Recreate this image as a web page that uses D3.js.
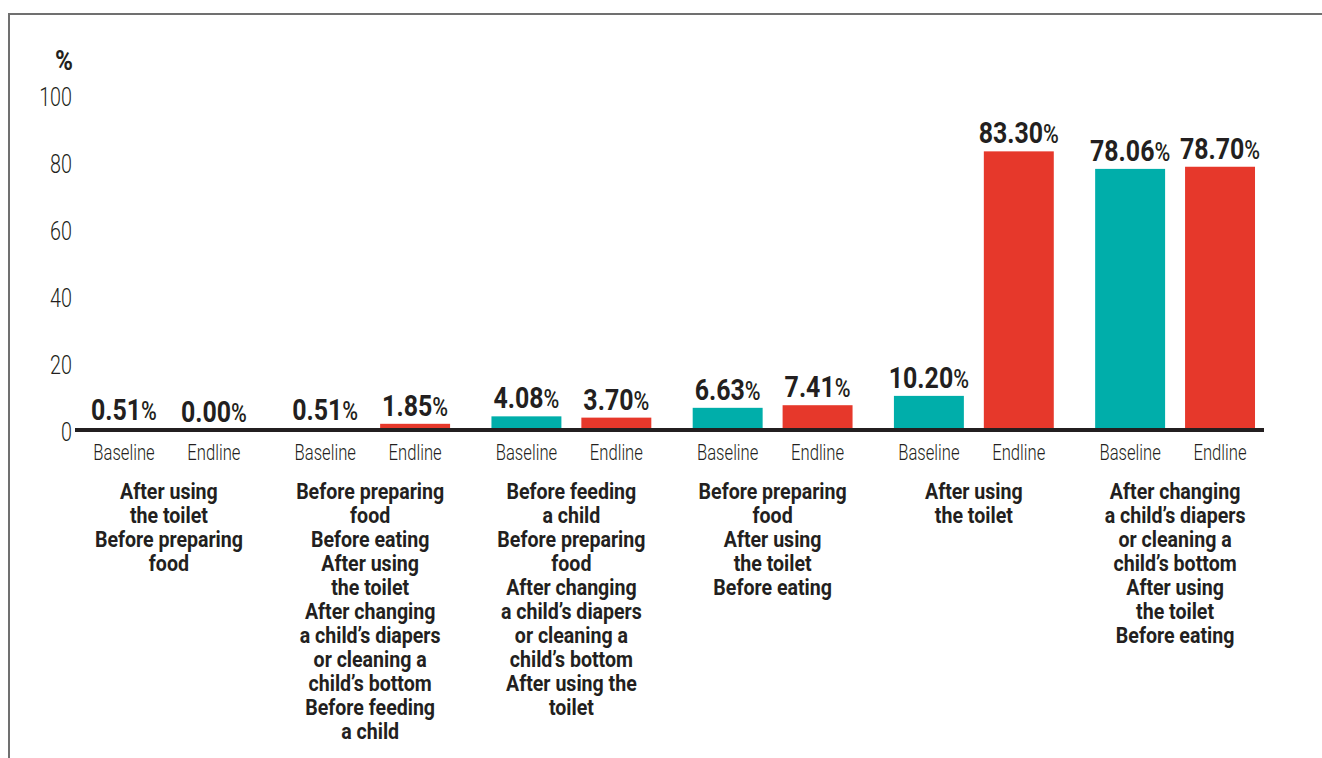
<!DOCTYPE html>
<html>
<head>
<meta charset="utf-8">
<script src="https://cdn.jsdelivr.net/npm/d3@7"></script>
<style>
  html, body { margin: 0; padding: 0; background: #fff; }
  svg { display: block; }
  text { font-family: Roboto, "Noto Sans", sans-serif; fill: #231f20; }
</style>
</head>
<body>
<div id="chart"></div>
<script>
// ---- data ----
const groupIds = ["g1", "g2", "g3", "g4", "g5", "g6"];
const seriesNames = ["Baseline", "Endline"];
const baselineValues = [0.51, 0.51, 4.08, 6.63, 10.20, 78.06];
const endlineValues = [0.00, 1.85, 3.70, 7.41, 83.30, 78.70];
const groupLabels = [
  ["After using", "the toilet", "Before preparing", "food"],
  ["Before preparing", "food", "Before eating", "After using", "the toilet", "After changing", "a child’s diapers", "or cleaning a", "child’s bottom", "Before feeding", "a child"],
  ["Before feeding", "a child", "Before preparing", "food", "After changing", "a child’s diapers", "or cleaning a", "child’s bottom", "After using the", "toilet"],
  ["Before preparing", "food", "After using", "the toilet", "Before eating"],
  ["After using", "the toilet"],
  ["After changing", "a child’s diapers", "or cleaning a", "child’s bottom", "After using", "the toilet", "Before eating"]
];
const yTicks = [0, 20, 40, 60, 80, 100];
const axisTitle = "%";

// ---- layout ----
const W = 1322, H = 758;
const colors = { Baseline: "#00aeaa", Endline: "#e6382b" };

const svg = d3.select("#chart").append("svg").attr("width", W).attr("height", H);

// frame
svg.append("line").attr("x1", 8).attr("x2", W).attr("y1", 14).attr("y2", 14)
  .attr("stroke", "#707070").attr("stroke-width", 2);
svg.append("line").attr("x1", 9).attr("x2", 9).attr("y1", 13).attr("y2", H)
  .attr("stroke", "#707070").attr("stroke-width", 2);

const y = d3.scaleLinear().domain([0, 100]).range([430, 95.5]);
const x0 = d3.scaleBand().domain(groupIds).range([68.3, 1275.7])
  .paddingInner(0.2056).paddingOuter(0.1028);
const x1 = d3.scaleBand().domain(seriesNames).range([0, x0.bandwidth()])
  .paddingInner(0.222).paddingOuter(0);

const data = groupIds.map((g, i) => ({
  id: g,
  labels: groupLabels[i],
  values: [
    { series: "Baseline", value: baselineValues[i] },
    { series: "Endline", value: endlineValues[i] }
  ]
}));

function ctext(parent, xPos, yPos, sx) {
  return parent.append("text")
    .attr("transform", `translate(${xPos},${yPos}) scale(${sx},1)`);
}

// y tick labels
yTicks.forEach(t => {
  ctext(svg, 72, y(t) + 10.5, 0.76)
    .attr("text-anchor", "end")
    .attr("font-size", 26).attr("font-weight", 300)
    .text(t);
});
// axis title
ctext(svg, 73, 70, 0.9)
  .attr("text-anchor", "end")
  .attr("font-size", 27).attr("font-weight", 700)
  .text(axisTitle);

// bars
const gGroups = svg.selectAll("g.grp").data(data).join("g")
  .attr("class", "grp")
  .attr("transform", d => `translate(${x0(d.id)},0)`);

gGroups.selectAll("rect").data(d => d.values).join("rect")
  .attr("x", d => x1(d.series))
  .attr("width", x1.bandwidth())
  .attr("y", d => y(d.value))
  .attr("height", d => y(0) - y(d.value))
  .attr("fill", d => colors[d.series]);

// value labels
gGroups.each(function(d) {
  const g = d3.select(this);
  d.values.forEach(v => {
    const t = ctext(g, x1(v.series) + x1.bandwidth() / 2, y(v.value) - 8, 0.86)
      .attr("text-anchor", "middle");
    t.append("tspan").attr("font-size", 29).attr("font-weight", 700).text(v.value.toFixed(2));
    t.append("tspan").attr("font-size", 25).attr("font-weight", 500).text("%");
    // series labels
    ctext(g, x1(v.series) + x1.bandwidth() / 2, 460, 0.74)
      .attr("text-anchor", "middle")
      .attr("font-size", 22.5).attr("font-weight", 300)
      .text(v.series);
  });
  // group labels
  d.labels.forEach((line, k) => {
    ctext(g, x0.bandwidth() / 2, 499 + k * 24, 0.87)
      .attr("text-anchor", "middle")
      .attr("font-size", 22.5).attr("font-weight", 700)
      .text(line);
  });
});

// x axis line
svg.append("line").attr("x1", 75).attr("x2", 1264).attr("y1", y(0)).attr("y2", y(0))
  .attr("stroke", "#231f20").attr("stroke-width", 4);
</script>
</body>
</html>
